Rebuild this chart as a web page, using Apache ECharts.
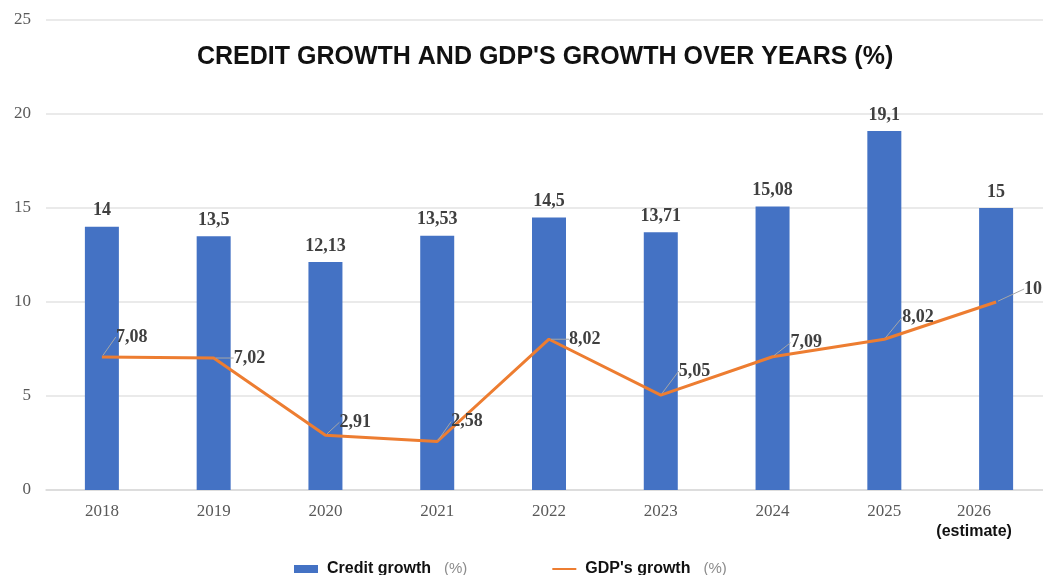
<!DOCTYPE html>
<html>
<head>
<meta charset="utf-8">
<script src="https://cdn.jsdelivr.net/npm/echarts@6/dist/echarts.min.js"></script>
<style>
  html, body { margin: 0; padding: 0; background: #fff; }
  #main { width: 1043px; height: 575px; }
</style>
</head>
<body>
<div id="main"></div>
<script>
// chart data
var years = ['2018', '2019', '2020', '2021', '2022', '2023', '2024', '2025', '2026'];
var creditGrowth = [14, 13.5, 12.13, 13.53, 14.5, 13.71, 15.08, 19.1, 15];
var gdpGrowth = [7.08, 7.02, 2.91, 2.58, 8.02, 5.05, 7.09, 8.02, 10];
var yTicks = [0, 5, 10, 15, 20, 25];

// label shifts for the GDP labels (pixels), styling only
var gdpLabelShift = [
  [10, -20], [16, 0], [10, -13], [10, -20], [16, 0],
  [14, -24], [14, -14], [14, -22], [24, -13]
];

function comma(v) {
  return String(v).replace('.', ',');
}

var serif = 'Liberation Serif, Times New Roman, serif';
var sans = 'Liberation Sans, Arial, sans-serif';

var myChart = echarts.init(document.getElementById('main'));

var option = {
  animation: false,
  backgroundColor: '#ffffff',
  title: {
    text: "CREDIT GROWTH AND GDP'S GROWTH OVER YEARS (%)",
    left: 192,
    top: 40,
    textStyle: {
      fontFamily: sans,
      fontSize: 25,
      fontWeight: 'bold',
      color: '#111'
    }
  },
  legend: {
    bottom: -7,
    left: 289,
    itemGap: 84,
    itemWidth: 24,
    itemHeight: 8,
    data: [
      { name: 'Credit growth', icon: 'rect' },
      { name: "GDP's growth" }
    ],
    formatter: function (name) {
      return '{b|' + name + '}{p|(%)}';
    },
    textStyle: {
      rich: {
        b: {
          fontFamily: sans,
          fontSize: 16,
          fontWeight: 'bold',
          color: '#111',
          padding: [0, 13, 0, 4]
        },
        p: {
          fontFamily: sans,
          fontSize: 15,
          color: '#8c8c8c'
        }
      }
    }
  },
  grid: {
    left: 46,
    top: 20,
    width: 1006,
    bottom: 85,
    containLabel: false,
    outerBoundsMode: 'none'
  },
  xAxis: {
    type: 'category',
    data: years,
    axisLine: { show: true, lineStyle: { color: '#d9d9d9', width: 1.5 } },
    axisTick: { show: false },
    axisLabel: {
      margin: 12,
      formatter: function (v) {
        if (v === '2026') return '{y2|' + v + '}\n{e|(estimate)}';
        return '{y|' + v + '}';
      },
      rich: {
        y: {
          fontFamily: serif,
          fontSize: 17,
          color: '#595959',
          lineHeight: 20
        },
        y2: {
          fontFamily: serif,
          fontSize: 17,
          color: '#595959',
          lineHeight: 20,
          padding: [0, 44, 0, 0]
        },
        e: {
          fontFamily: sans,
          fontSize: 16,
          fontWeight: 'bold',
          color: '#111',
          lineHeight: 20,
          padding: [0, 44, 0, 0]
        }
      }
    }
  },
  yAxis: {
    type: 'value',
    min: yTicks[0],
    max: yTicks[yTicks.length - 1],
    interval: 5,
    axisLine: { show: false },
    axisTick: { show: false },
    axisLabel: {
      margin: 15,
      fontFamily: serif,
      fontSize: 17,
      color: '#595959'
    },
    splitLine: { lineStyle: { color: '#e3e3e3', width: 1.5 } }
  },
  series: [
    {
      name: 'Credit growth',
      type: 'bar',
      data: creditGrowth,
      barWidth: 34,
      itemStyle: { color: '#4472C4' },
      label: {
        show: true,
        position: 'top',
        distance: 7,
        fontFamily: serif,
        fontSize: 18,
        fontWeight: 'bold',
        color: '#404040',
        formatter: function (p) { return comma(p.value); }
      }
    },
    {
      name: "GDP's growth",
      type: 'line',
      data: gdpGrowth,
      symbol: 'circle',
      symbolSize: 4,
      showSymbol: true,
      lineStyle: { color: '#ED7D31', width: 3 },
      itemStyle: { color: '#ED7D31', opacity: 0 },
      z: 5,
      label: {
        show: true,
        position: 'right',
        distance: 2,
        fontFamily: serif,
        fontSize: 18,
        fontWeight: 'bold',
        color: '#404040',
        opacity: 1,
        formatter: function (p) { return comma(p.value); }
      },
      labelLine: {
        show: true,
        lineStyle: { color: '#a6a6a6', width: 1 }
      },
      labelLayout: function (params) {
        var s = gdpLabelShift[params.dataIndex] || [0, 0];
        return { dx: s[0], dy: s[1] };
      }
    }
  ]
};

myChart.setOption(option);
</script>
</body>
</html>
